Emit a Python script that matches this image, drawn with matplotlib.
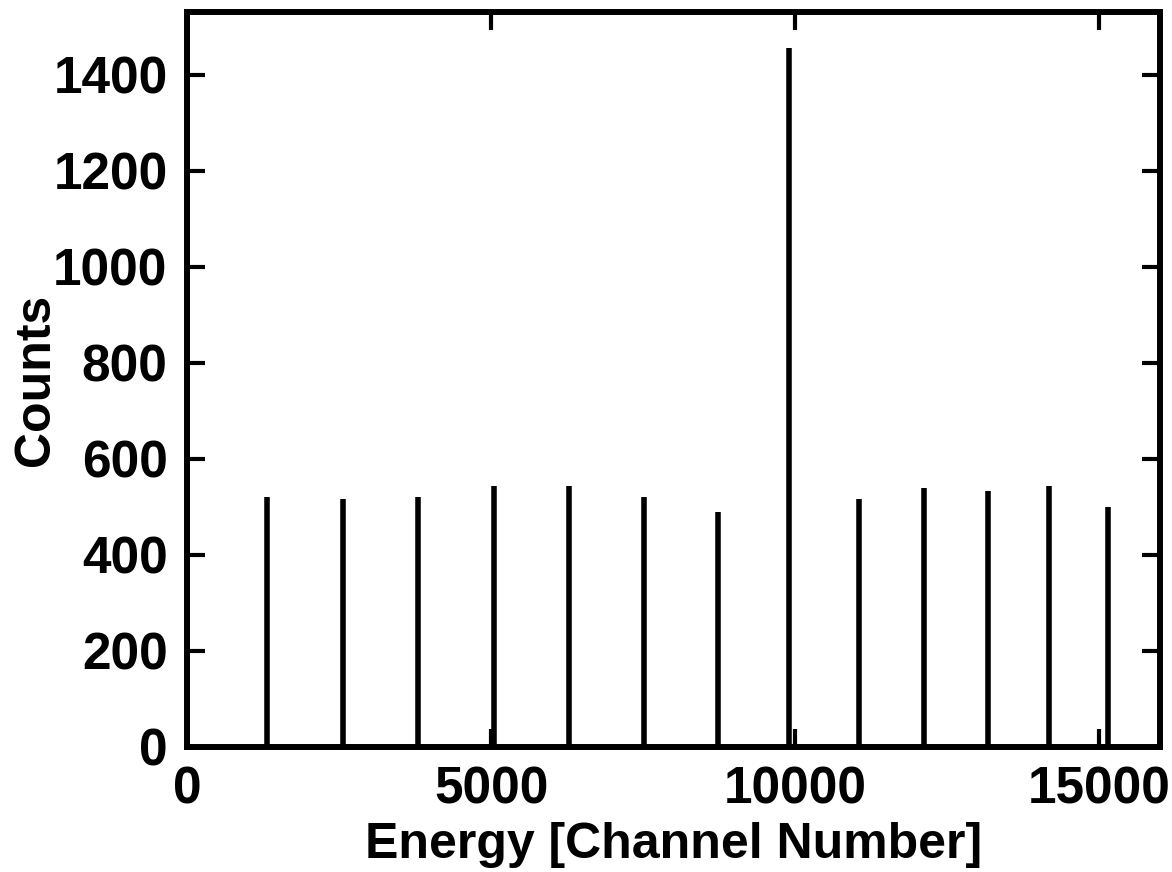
import matplotlib
matplotlib.use("Agg")
import matplotlib.pyplot as plt

peak_channels = [1316, 2566, 3799, 5049, 6283, 7516, 8734, 9901, 11053, 12122, 13174, 14178, 15148]
peak_counts = [520, 516, 520, 543, 543, 520, 489, 1457, 516, 539, 532, 543, 499]
x_ticks = [0, 5000, 10000, 15000]
y_ticks = [0, 200, 400, 600, 800, 1000, 1200, 1400]

plt.rcParams['font.family'] = ['Liberation Sans', 'DejaVu Sans']
plt.rcParams['font.weight'] = 'bold'

fig = plt.figure(figsize=(11.72, 8.72), dpi=100)
ax = fig.add_axes([187/1172, (872-746.5)/872, (1160-187)/1172, (746.5-12.5)/872])

ax.vlines(peak_channels, 0, peak_counts, colors='black', linewidth=4.0)

ax.set_xlim(0, 16000)
ax.set_ylim(0, 1530)
ax.set_xticks(x_ticks)
ax.set_yticks(y_ticks)
ax.tick_params(direction='in', length=13, width=3, top=True, right=True,
               labelsize=37, pad=14)
for lab in ax.get_xticklabels() + ax.get_yticklabels():
    lab.set_fontweight('bold')
for s in ax.spines.values():
    s.set_linewidth(4.3)

ax.set_xlabel('Energy [Channel Number]', fontsize=36, fontweight='bold', labelpad=5)
ax.set_ylabel('Counts', fontsize=36, fontweight='bold', labelpad=-4)

fig.savefig('out.png', dpi=100)
